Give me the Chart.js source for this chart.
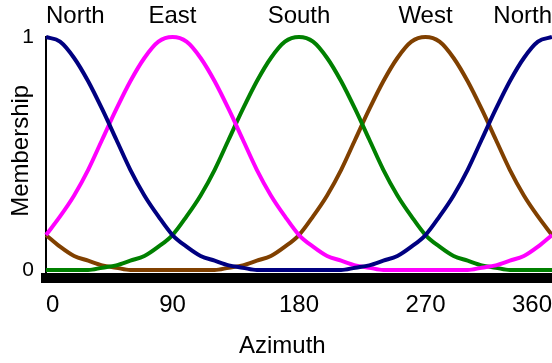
<!DOCTYPE html>
<html>
<head>
<meta charset="utf-8">
<title>Azimuth membership functions</title>
<script src="https://cdn.jsdelivr.net/npm/chart.js@4/dist/chart.umd.min.js"></script>
<style>
  html, body { margin: 0; padding: 0; background: #fff; }
  #wrap { position: relative; width: 552px; height: 363px; }
</style>
</head>
<body>
<div id="wrap"><canvas id="chartMF"></canvas></div>
<script>
/* ───────── data ───────── */

const azimuth = [
  0, 10, 20, 30, 40, 50, 60, 70, 80, 90, 100, 110, 120, 130, 140, 150, 160, 170, 180,
  190, 200, 210, 220, 230, 240, 250, 260, 270, 280, 290, 300, 310, 320, 330, 340, 350, 360,
];

const north = [
  1.00, 0.98, 0.91, 0.81, 0.69, 0.56, 0.43, 0.32, 0.23, 0.15, 0.10, 0.06, 0.04, 0.02, 0.01, 0, 0, 0, 0,
  0, 0, 0, 0.01, 0.02, 0.04, 0.06, 0.10, 0.15, 0.23, 0.32, 0.43, 0.56, 0.69, 0.81, 0.91, 0.98, 1.00,
];
const east = [
  0.15, 0.23, 0.32, 0.43, 0.56, 0.69, 0.81, 0.91, 0.98, 1.00, 0.98, 0.91, 0.81, 0.69, 0.56, 0.43, 0.32, 0.23, 0.15,
  0.10, 0.06, 0.04, 0.02, 0.01, 0, 0, 0, 0, 0, 0, 0, 0.01, 0.02, 0.04, 0.06, 0.10, 0.15,
];
const south = [
  0, 0, 0, 0, 0.01, 0.02, 0.04, 0.06, 0.10, 0.15, 0.23, 0.32, 0.43, 0.56, 0.69, 0.81, 0.91, 0.98, 1.00,
  0.98, 0.91, 0.81, 0.69, 0.56, 0.43, 0.32, 0.23, 0.15, 0.10, 0.06, 0.04, 0.02, 0.01, 0, 0, 0, 0,
];
const west = [
  0.15, 0.10, 0.06, 0.04, 0.02, 0.01, 0, 0, 0, 0, 0, 0, 0, 0.01, 0.02, 0.04, 0.06, 0.10, 0.15,
  0.23, 0.32, 0.43, 0.56, 0.69, 0.81, 0.91, 0.98, 1.00, 0.98, 0.91, 0.81, 0.69, 0.56, 0.43, 0.32, 0.23, 0.15,
];

const dirLabels = ['North', 'East', 'South', 'West', 'North'];
const xTicks = [0, 90, 180, 270, 360];
const yTicks = [0, 1];

/* ───────── chart ───────── */

const FONT = '"Liberation Sans", Arial, sans-serif';
Chart.defaults.font.family = FONT;
Chart.defaults.color = '#000';

function toPoints(values) {
  return azimuth.map((a, i) => ({ x: a, y: values[i] }));
}

function mfDataset(label, values, color) {
  return {
    label,
    data: toPoints(values),
    borderColor: color,
    borderWidth: 4,
    pointRadius: 0,
    cubicInterpolationMode: 'monotone',
    clip: false,
  };
}

const setTicks = (values) => (scale) => { scale.ticks = values.map(v => ({ value: v })); };

// fixed box sizes so the plot area sits where the original one does
const fitX = (h) => (scale) => {
  scale.height = h;
  scale.paddingLeft = 0;
  scale.paddingRight = 0;
};

new Chart(document.getElementById('chartMF'), {
  type: 'line',
  data: {
    datasets: [
      mfDataset('North', north, '#000080'),
      mfDataset('East', east, '#ff00ff'),
      mfDataset('South', south, '#008000'),
      mfDataset('West', west, '#804000'),
    ],
  },
  options: {
    responsive: true,
    maintainAspectRatio: false,
    animation: false,
    layout: { padding: 0 },
    plugins: { legend: { display: false }, tooltip: { enabled: false } },
    scales: {
      x: {
        type: 'linear', min: 0, max: 360,
        afterBuildTicks: setTicks(xTicks),
        afterFit: fitX(85),
        grid: { display: false, drawTicks: false },
        border: { display: true, color: '#000', width: 10 },
        ticks: { align: 'inner', padding: 13, maxRotation: 0, font: { size: 24 } },
        title: { display: true, text: 'Azimuth\u00a0\u00a0\u00a0\u00a0\u00a0', font: { size: 24 }, padding: { top: 0, bottom: 2 } },
      },
      xTop: {
        type: 'linear', position: 'top', min: 0, max: 360,
        afterBuildTicks: setTicks(xTicks),
        afterFit: fitX(37),
        grid: { display: false, drawTicks: false },
        border: { display: false },
        ticks: {
          align: 'inner', padding: 6, maxRotation: 0, font: { size: 24 },
          callback: (v, i) => dirLabels[i],
        },
      },
      y: {
        min: -0.0344, max: 1,
        afterBuildTicks: setTicks(yTicks),
        afterFit: (scale) => { scale.width = 46; },
        grid: { display: false, drawTicks: false },
        border: { display: true, color: '#000', width: 2 },
        ticks: { padding: 12, font: { size: 21 } },
        title: { display: true, text: '\u00a0\u00a0Membership', font: { size: 24 }, padding: { top: 7, bottom: 0 } },
      },
    },
  },
});
</script>
</body>
</html>
